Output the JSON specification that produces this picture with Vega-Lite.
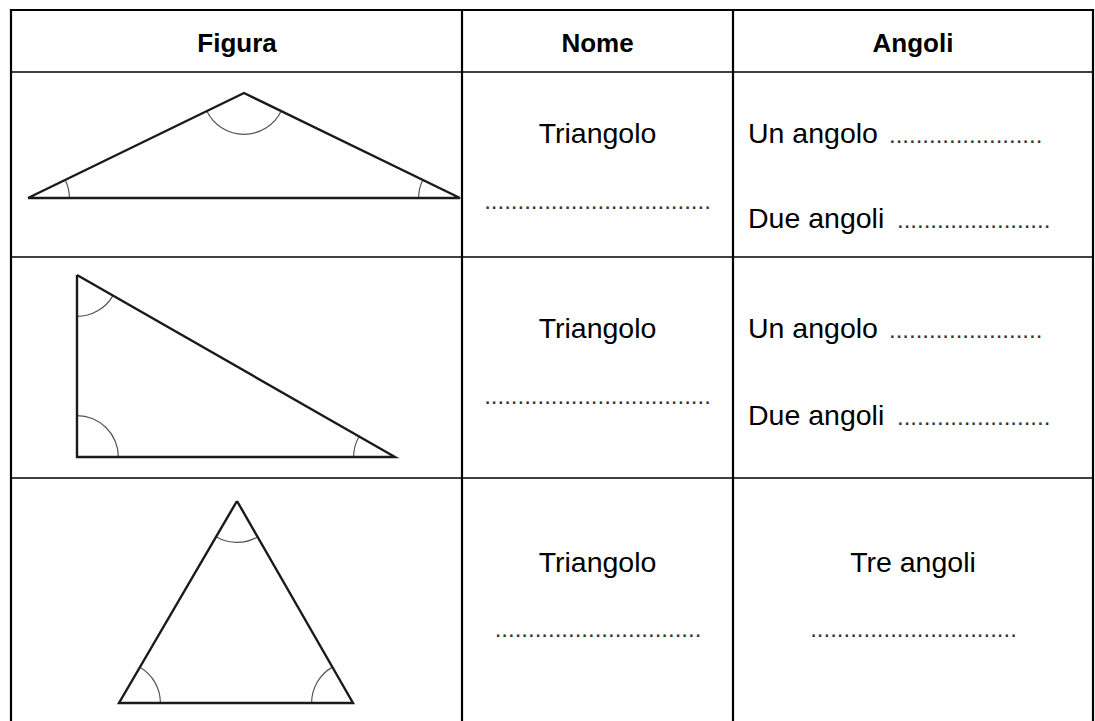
{
  "$schema": "https://vega.github.io/schema/vega-lite/v6.json",
  "width": 1095,
  "height": 721,
  "padding": 0,
  "autosize": {"type": "none"},
  "background": "white",
  "config": {"view": {"stroke": null}, "font": "Liberation Sans", "text": {"font": "Liberation Sans"}},
  "datasets": {
    "borders": [
      {"x": 11, "y": 10, "x2": 1093, "y2": 10},
      {"x": 11, "y": 10, "x2": 11, "y2": 721},
      {"x": 1093, "y": 10, "x2": 1093, "y2": 721},
      {"x": 462, "y": 10, "x2": 462, "y2": 721},
      {"x": 733, "y": 10, "x2": 733, "y2": 721}
    ],
    "rowLines": [
      {"x": 11, "y": 72, "x2": 1093, "y2": 72},
      {"x": 11, "y": 257, "x2": 1093, "y2": 257},
      {"x": 11, "y": 478, "x2": 1093, "y2": 478}
    ],
    "triangles": [
      {"shape": "ottusangolo", "order": 1, "x": 28, "y": 198},
      {"shape": "ottusangolo", "order": 2, "x": 244, "y": 93},
      {"shape": "ottusangolo", "order": 3, "x": 460, "y": 198},
      {"shape": "ottusangolo", "order": 4, "x": 28, "y": 198},
      {"shape": "rettangolo", "order": 1, "x": 77, "y": 275},
      {"shape": "rettangolo", "order": 2, "x": 395, "y": 457},
      {"shape": "rettangolo", "order": 3, "x": 77, "y": 457},
      {"shape": "rettangolo", "order": 4, "x": 77, "y": 275},
      {"shape": "acutangolo", "order": 1, "x": 237, "y": 501},
      {"shape": "acutangolo", "order": 2, "x": 353, "y": 703},
      {"shape": "acutangolo", "order": 3, "x": 119, "y": 703},
      {"shape": "acutangolo", "order": 4, "x": 237, "y": 501}
    ],
    "arcs": [
      {"x": 28, "y": 198, "a0": 1.119, "a1": 1.571},
      {"x": 244, "y": 93, "a0": 2.023, "a1": 4.260},
      {"x": 460, "y": 198, "a0": 4.712, "a1": 5.165},
      {"x": 77, "y": 275, "a0": 2.091, "a1": 3.1416},
      {"x": 77, "y": 457, "a0": 0, "a1": 1.5708},
      {"x": 395, "y": 457, "a0": 4.712, "a1": 5.232},
      {"x": 237, "y": 501, "a0": 2.620, "a1": 3.670},
      {"x": 119, "y": 703, "a0": 0.529, "a1": 1.571},
      {"x": 353, "y": 703, "a0": 4.712, "a1": 5.761}
    ],
    "header": [
      {"label": "Figura", "x": 237, "y": 52},
      {"label": "Nome", "x": 597.5, "y": 52},
      {"label": "Angoli", "x": 913, "y": 52}
    ],
    "centerText": [
      {"label": "Triangolo", "x": 597.5, "y": 143},
      {"label": "Triangolo", "x": 597.5, "y": 338},
      {"label": "Triangolo", "x": 597.5, "y": 572},
      {"label": "Tre angoli", "x": 913, "y": 572}
    ],
    "leftText": [
      {"label": "Un angolo", "x": 748, "y": 143},
      {"label": "Due angoli", "x": 748, "y": 228},
      {"label": "Un angolo", "x": 748, "y": 338},
      {"label": "Due angoli", "x": 748, "y": 425}
    ],
    "centerDots": [
      {"label": "..................................", "x": 597.5, "y": 209},
      {"label": "..................................", "x": 597.5, "y": 404},
      {"label": "...............................", "x": 598, "y": 637},
      {"label": "...............................", "x": 913.5, "y": 637}
    ],
    "leftDots": [
      {"label": ".......................", "x": 889, "y": 143},
      {"label": ".......................", "x": 897, "y": 228},
      {"label": ".......................", "x": 889, "y": 338},
      {"label": ".......................", "x": 897, "y": 425}
    ]
  },
  "layer": [
    {
      "data": {"name": "arcs"},
      "mark": {"type": "arc", "innerRadius": 40.8, "outerRadius": 42, "fill": "#555555", "stroke": null},
      "encoding": {
        "x": {"field": "x", "type": "quantitative", "scale": {"domain": [0, 1095], "nice": false, "zero": false}, "axis": null},
        "y": {"field": "y", "type": "quantitative", "scale": {"domain": [0, 721], "nice": false, "zero": false, "reverse": true}, "axis": null},
        "theta": {"field": "a0", "type": "quantitative", "scale": null, "stack": null},
        "theta2": {"field": "a1"}
      }
    },
    {
      "data": {"name": "triangles"},
      "mark": {"type": "line", "stroke": "#1a1a1a", "strokeWidth": 2.4, "strokeJoin": "miter"},
      "encoding": {
        "x": {"field": "x", "type": "quantitative", "scale": {"domain": [0, 1095], "nice": false, "zero": false}, "axis": null},
        "y": {"field": "y", "type": "quantitative", "scale": {"domain": [0, 721], "nice": false, "zero": false, "reverse": true}, "axis": null},
        "detail": {"field": "shape", "type": "nominal"},
        "order": {"field": "order", "type": "quantitative"}
      }
    },
    {
      "data": {"name": "borders"},
      "mark": {"type": "rule", "stroke": "#000000", "strokeWidth": 2.2, "strokeCap": "square"},
      "encoding": {
        "x": {"field": "x", "type": "quantitative", "scale": {"domain": [0, 1095], "nice": false, "zero": false}, "axis": null},
        "y": {"field": "y", "type": "quantitative", "scale": {"domain": [0, 721], "nice": false, "zero": false, "reverse": true}, "axis": null},
        "x2": {"field": "x2"},
        "y2": {"field": "y2"}
      }
    },
    {
      "data": {"name": "rowLines"},
      "mark": {"type": "rule", "stroke": "#000000", "strokeWidth": 1.6},
      "encoding": {
        "x": {"field": "x", "type": "quantitative", "scale": {"domain": [0, 1095], "nice": false, "zero": false}, "axis": null},
        "y": {"field": "y", "type": "quantitative", "scale": {"domain": [0, 721], "nice": false, "zero": false, "reverse": true}, "axis": null},
        "x2": {"field": "x2"},
        "y2": {"field": "y2"}
      }
    },
    {
      "data": {"name": "header"},
      "mark": {"type": "text", "font": "Liberation Sans", "align": "center", "baseline": "alphabetic", "fontSize": 26, "fontWeight": "bold", "color": "#000000"},
      "encoding": {
        "x": {"field": "x", "type": "quantitative", "scale": {"domain": [0, 1095], "nice": false, "zero": false}, "axis": null},
        "y": {"field": "y", "type": "quantitative", "scale": {"domain": [0, 721], "nice": false, "zero": false, "reverse": true}, "axis": null},
        "text": {"field": "label"}
      }
    },
    {
      "data": {"name": "centerText"},
      "mark": {"type": "text", "font": "Liberation Sans", "align": "center", "baseline": "alphabetic", "fontSize": 28.5, "color": "#000000"},
      "encoding": {
        "x": {"field": "x", "type": "quantitative", "scale": {"domain": [0, 1095], "nice": false, "zero": false}, "axis": null},
        "y": {"field": "y", "type": "quantitative", "scale": {"domain": [0, 721], "nice": false, "zero": false, "reverse": true}, "axis": null},
        "text": {"field": "label"}
      }
    },
    {
      "data": {"name": "leftText"},
      "mark": {"type": "text", "font": "Liberation Sans", "align": "left", "baseline": "alphabetic", "fontSize": 28.5, "color": "#000000"},
      "encoding": {
        "x": {"field": "x", "type": "quantitative", "scale": {"domain": [0, 1095], "nice": false, "zero": false}, "axis": null},
        "y": {"field": "y", "type": "quantitative", "scale": {"domain": [0, 721], "nice": false, "zero": false, "reverse": true}, "axis": null},
        "text": {"field": "label"}
      }
    },
    {
      "data": {"name": "centerDots"},
      "mark": {"type": "text", "font": "Liberation Sans", "align": "center", "baseline": "alphabetic", "fontSize": 24, "color": "#333333"},
      "encoding": {
        "x": {"field": "x", "type": "quantitative", "scale": {"domain": [0, 1095], "nice": false, "zero": false}, "axis": null},
        "y": {"field": "y", "type": "quantitative", "scale": {"domain": [0, 721], "nice": false, "zero": false, "reverse": true}, "axis": null},
        "text": {"field": "label"}
      }
    },
    {
      "data": {"name": "leftDots"},
      "mark": {"type": "text", "font": "Liberation Sans", "align": "left", "baseline": "alphabetic", "fontSize": 24, "color": "#333333"},
      "encoding": {
        "x": {"field": "x", "type": "quantitative", "scale": {"domain": [0, 1095], "nice": false, "zero": false}, "axis": null},
        "y": {"field": "y", "type": "quantitative", "scale": {"domain": [0, 721], "nice": false, "zero": false, "reverse": true}, "axis": null},
        "text": {"field": "label"}
      }
    }
  ]
}
